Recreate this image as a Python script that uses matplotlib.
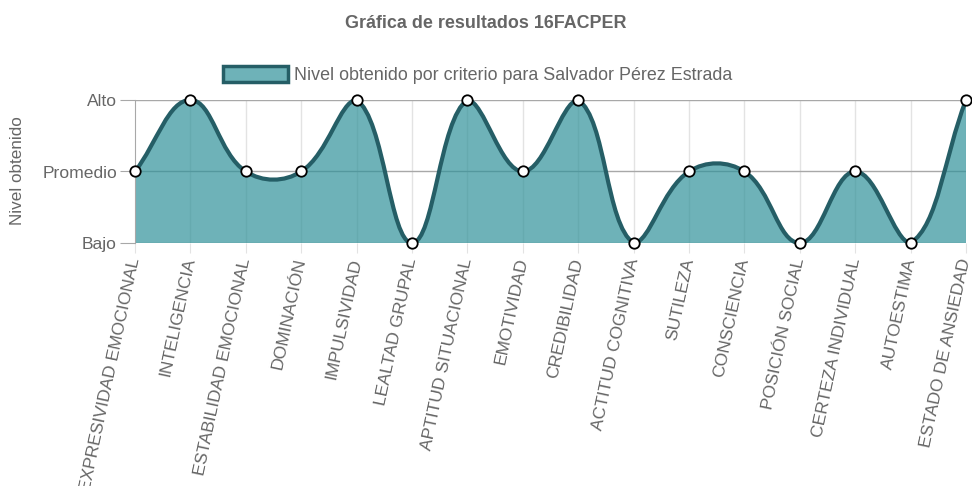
import numpy as np
import matplotlib.pyplot as plt
from matplotlib.path import Path
from matplotlib.patches import PathPatch, Patch

plt.rcParams['font.family'] = ['Liberation Sans', 'DejaVu Sans']

criterios = ['EXPRESIVIDAD EMOCIONAL', 'INTELIGENCIA', 'ESTABILIDAD EMOCIONAL',
             'DOMINACIÓN', 'IMPULSIVIDAD', 'LEALTAD GRUPAL', 'APTITUD SITUACIONAL',
             'EMOTIVIDAD', 'CREDIBILIDAD', 'ACTITUD COGNITIVA', 'SUTILEZA',
             'CONSCIENCIA', 'POSICIÓN SOCIAL', 'CERTEZA INDIVIDUAL', 'AUTOESTIMA',
             'ESTADO DE ANSIEDAD']
niveles = [1, 2, 1, 1, 2, 0, 2, 1, 2, 0, 1, 1, 0, 1, 0, 2]
etiquetas_y = ['Bajo', 'Promedio', 'Alto']

titulo = 'Gráfica de resultados 16FACPER'
serie = 'Nivel obtenido por criterio para Salvador Pérez Estrada'

gris = '#666666'
relleno = (49/255, 146/255, 154/255, 0.7)
linea = '#255e66'

fig = plt.figure(figsize=(9.72, 4.86), dpi=100)
ax = fig.add_axes([135/972, 1 - 243/486, 831/972, 143/486])
x = np.arange(len(criterios))
y = np.array(niveles, dtype=float)
ax.set_xlim(0, len(criterios) - 1)
ax.set_ylim(0, 2)

# curva tipo Chart.js (tension 0.4) calculada en pixeles
pts = ax.transData.transform(np.column_stack([x, y]))
t = 0.4
cp_prev = pts.copy()
cp_next = pts.copy()
for i in range(len(pts)):
    prev = pts[i - 1] if i > 0 else pts[i]
    nxt = pts[i + 1] if i < len(pts) - 1 else pts[i]
    d01 = np.hypot(*(pts[i] - prev))
    d12 = np.hypot(*(nxt - pts[i]))
    s01 = d01 / (d01 + d12)
    s12 = d12 / (d01 + d12)
    cp_prev[i] = pts[i] - t * s01 * (nxt - prev)
    cp_next[i] = pts[i] + t * s12 * (nxt - prev)
inv = ax.transData.inverted()
cp_prev = inv.transform(cp_prev)
cp_next = inv.transform(cp_next)
cp_prev[:, 1] = np.clip(cp_prev[:, 1], 0, 2)
cp_next[:, 1] = np.clip(cp_next[:, 1], 0, 2)

verts = [(x[0], y[0])]
codes = [Path.MOVETO]
for i in range(len(x) - 1):
    verts += [tuple(cp_next[i]), tuple(cp_prev[i + 1]), (x[i + 1], y[i + 1])]
    codes += [Path.CURVE4] * 3

area = Path(verts + [(x[-1], 0), (x[0], 0), (x[0], y[0])],
            codes + [Path.LINETO, Path.LINETO, Path.CLOSEPOLY])
ax.add_patch(PathPatch(area, facecolor=relleno, edgecolor='none', zorder=2))
ax.add_patch(PathPatch(Path(verts, codes), facecolor='none', edgecolor=linea,
                       lw=3, zorder=3, clip_on=False))
ax.plot(x, y, 'o', ms=7.5, mfc='white', mec='black', mew=1.3, zorder=4, clip_on=False)

# rejilla
for xi in x[1:]:
    ax.axvline(xi, color='#e3e3e3', lw=1, zorder=1)
for yi in range(3):
    ax.axhline(yi, color='#a8a8a8', lw=1, zorder=1)
for s in ['top', 'right', 'bottom']:
    ax.spines[s].set_visible(False)
ax.spines['left'].set_color('#a8a8a8')

ax.set_yticks([0, 1, 2])
ax.set_yticklabels(etiquetas_y)
ax.set_xticks(x)
ax.set_xticklabels(criterios, rotation=78, ha='right', va='center',
                   rotation_mode='anchor')
ax.tick_params(axis='y', colors='#a8a8a8', labelcolor=gris, labelsize=12.6,
               length=11, pad=2)
ax.tick_params(axis='x', colors='#e3e3e3', labelcolor=gris, labelsize=12.6,
               length=7, pad=4)

fig.text(17/972, 1 - 171/486, 'Nivel obtenido', rotation=90, ha='center',
         va='center', color=gris, fontsize=12.3)
fig.text(486/972, 1 - 23/486, titulo, ha='center', va='center', color=gris,
         fontsize=12.9, fontweight='bold')
ax.legend(handles=[Patch(facecolor=relleno, edgecolor=linea, lw=2.5, label=serie)],
          loc='center', bbox_to_anchor=(478/972, 1 - 75/486),
          bbox_transform=fig.transFigure, frameon=False, fontsize=12.9,
          labelcolor=gris, handlelength=3.6, handleheight=1.0, handletextpad=0.35)

fig.savefig('out.png', dpi=100)
